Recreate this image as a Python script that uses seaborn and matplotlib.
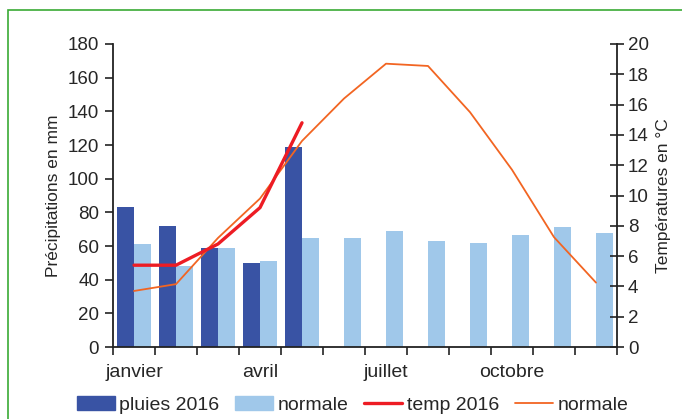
import numpy as np
import pandas as pd
import matplotlib
matplotlib.use("Agg")
import matplotlib.pyplot as plt
from matplotlib.patches import Rectangle, Patch
from matplotlib.lines import Line2D
import seaborn as sns

months = ["janvier", "février", "mars", "avril", "mai", "juin",
          "juillet", "août", "septembre", "octobre", "novembre", "décembre"]
pluies_2016 = [83, 72, 59, 50, 119, np.nan, np.nan, np.nan, np.nan, np.nan, np.nan, np.nan]
pluies_normale = [61, 48, 59, 51, 65, 65, 69, 63, 62, 66.5, 71, 68]
temp_2016 = [5.4, 5.4, 6.8, 9.2, 14.8]
temp_normale = [3.7, 4.15, 7.2, 9.8, 13.6, 16.4, 18.7, 18.55, 15.5, 11.7, 7.25, 4.25]
shown_labels = {0: "janvier", 3: "avril", 6: "juillet", 9: "octobre"}

c_dark = "#3953A4"
c_light = "#A0C8EA"
c_red = "#ED1C24"
c_orange = "#F26522"

sns.set_style("ticks")
plt.rcParams["font.family"] = ["Liberation Sans", "DejaVu Sans"]

fig = plt.figure(figsize=(6.82, 4.19), dpi=100)
ax = fig.add_axes([0.1657, 0.1718, 0.739, 0.7232])

df = pd.DataFrame({
    "mois": months * 2,
    "valeur": pluies_2016 + pluies_normale,
    "serie": ["pluies 2016"] * 12 + ["normale"] * 12,
})
sns.barplot(data=df, x="mois", y="valeur", hue="serie", order=months,
            hue_order=["pluies 2016", "normale"],
            palette=[c_dark, c_light], width=0.8, linewidth=0,
            saturation=1, ax=ax, legend=False)

ax.set_xlim(-0.5, 11.5)
ax.set_ylim(0, 180)
ax.set_yticks(range(0, 181, 20))
ax.set_xticks(np.arange(-0.5, 12, 1))
ax.set_xticklabels([])
ax.set_xticks(list(shown_labels.keys()), minor=True)
ax.set_xticklabels(list(shown_labels.values()), minor=True)
ax.tick_params(axis="x", which="minor", length=0, pad=12, labelsize=14)
ax.tick_params(axis="x", which="major", length=6, width=1.2, direction="out", color="#222222")
ax.tick_params(axis="y", length=6, width=1.2, direction="out", labelsize=13.5, color="#222222", pad=4)
ax.set_xlabel("")
ax.set_ylabel("Précipitations en mm", fontsize=12.5, labelpad=5)
for s in ["top", "right"]:
    ax.spines[s].set_visible(False)
for s in ["left", "bottom"]:
    ax.spines[s].set_linewidth(1.3)
    ax.spines[s].set_color("#222222")

ax2 = ax.twinx()
sns.lineplot(x=np.arange(len(temp_normale)), y=temp_normale, color=c_orange,
             linewidth=1.3, ax=ax2, legend=False)
sns.lineplot(x=np.arange(len(temp_2016)), y=temp_2016, color=c_red,
             linewidth=2.4, ax=ax2, legend=False)
ax2.set_xlim(-0.5, 11.5)
ax2.set_ylim(0, 20)
ax2.set_yticks(range(0, 21, 2))
ax2.tick_params(axis="y", length=10, width=1.2, direction="inout", labelsize=13.5, color="#222222", pad=3)
ax2.set_ylabel("Températures en °C", fontsize=12.5, labelpad=5)
for s in ["top", "left", "bottom"]:
    ax2.spines[s].set_visible(False)
ax2.spines["right"].set_linewidth(1.3)
ax2.spines["right"].set_color("#222222")

handles = [Patch(color=c_dark), Patch(color=c_light),
           Line2D([], [], color=c_red, lw=2.4), Line2D([], [], color=c_orange, lw=1.3)]
labels = ["pluies 2016", "normale", "temp 2016", "normale"]
fig.legend(handles, labels, loc="center", bbox_to_anchor=(0.517, 0.033), ncol=4,
           frameon=False, fontsize=14, handlelength=1.95, handleheight=0.7,
           columnspacing=0.8, handletextpad=0.25)

fig.patches.append(Rectangle((8 / 682, -0.05), 1.0, 1 - 10 / 419 + 0.05,
                             transform=fig.transFigure, fill=False,
                             edgecolor="#3AAA35", linewidth=1.2, clip_on=False))

fig.savefig("out.png", dpi=100)
